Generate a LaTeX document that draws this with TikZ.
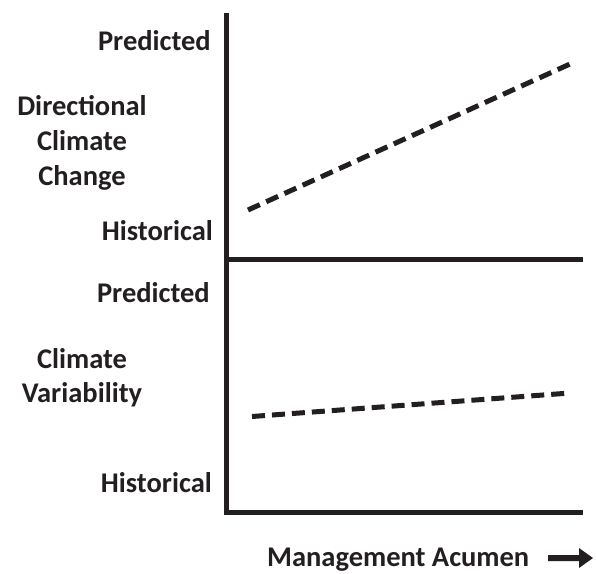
\documentclass[tikz,border=0pt]{standalone}
\usepackage{fontspec}
\setmainfont{Carlito}
\definecolor{ink}{HTML}{231F20}
\begin{document}
\begin{tikzpicture}[x=1pt,y=-1pt,
  axis/.style={line width=5pt,draw=ink},
  trend/.style={line width=5pt,draw=ink,dash pattern=on 13pt off 7pt},
  lab/.style={text=ink,font=\fontsize{28.5}{31}\selectfont\bfseries,inner sep=0pt},
  rlab/.style={lab,anchor=base east},
  clab/.style={lab,anchor=base}]
\useasboundingbox (0,0) rectangle (596,573);
% axes
\coordinate (top) at (226,13);
\coordinate (corner) at (226,512.5);
\coordinate (br) at (583,512.5);
\coordinate (ml) at (226,259.5);
\coordinate (mr) at (583,259.5);
\draw[axis] (top) -- (corner) -- (br);
\draw[axis] (ml) -- (mr);
% trends
\coordinate (t1) at (248,210);
\coordinate (t2) at (570,64);
\draw[trend] (t1) -- (t2);
\coordinate (b1) at (252,416.5);
\coordinate (b2) at (570,393);
\draw[trend] (b1) -- (b2);
% labels
\node[rlab] (p1) at (211,50) {Predicted};
\node[clab] (d1) at (82,115) {Directional};
\node[clab] (d2) at (82,150) {Climate};
\node[clab] (d3) at (82,185) {Change};
\node[rlab] (h1) at (213,240) {Historical};
\node[rlab] (p2) at (210,302) {Predicted};
\node[clab] (v1) at (82,368) {Climate};
\node[clab] (v2) at (82,402) {Variability};
\node[rlab] (h2) at (212,492) {Historical};
\node[lab,anchor=base west] (ma) at (267,566) {Management Acumen};
% arrow
\fill[ink] (548,555) -- (579,555) -- (579,548) -- (593,558) -- (579,568) -- (579,561) -- (548,561) -- cycle;
\end{tikzpicture}
\end{document}
